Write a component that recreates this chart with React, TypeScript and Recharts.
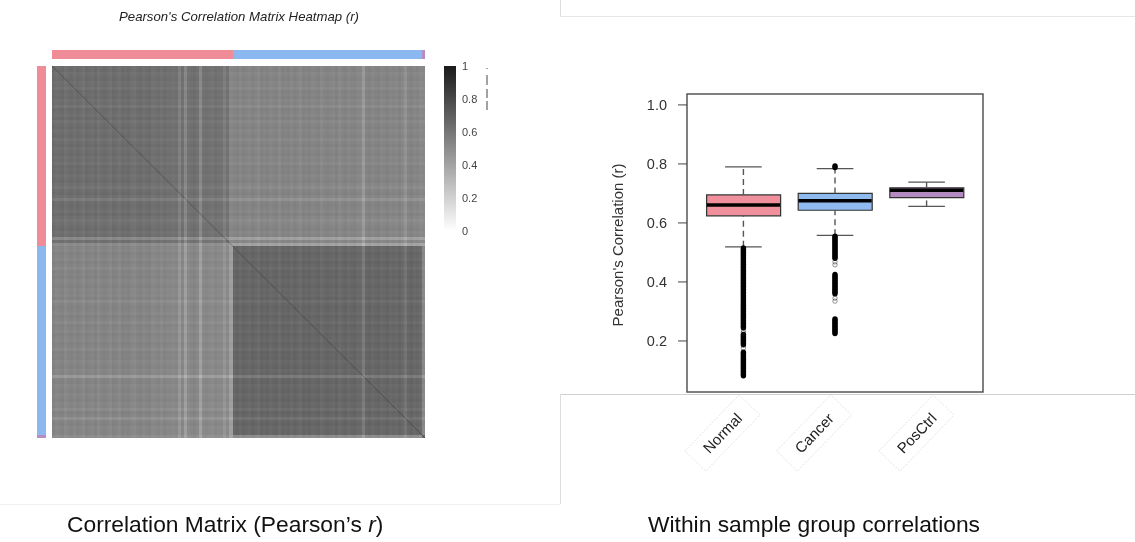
import React from 'react';
import {
  Bar,
  BarChart,
  Cell,
  ComposedChart,
  ReferenceArea,
  ReferenceLine,
  Scatter,
  ScatterChart,
  XAxis,
  YAxis,
} from 'recharts';

const FONT = '"Liberation Sans", Arial, sans-serif';

// heatmap: samples per group and mean r of each block
const groupNames = ['Normal', 'Cancer', 'PosCtrl'];
const groupSizes = [60, 63, 1];
const groupColors = ['#f08c98', '#8cb8f0', '#b98cc4'];
const blockLevels = [
  [0.635, 0.535, 0.55],
  [0.535, 0.665, 0.55],
  [0.55, 0.55, 0.72],
];

// how far each column / row sits from its block mean
const colOffsets = [
  0.01, -0.01, 0, 0.01, -0.02, 0, 0.01, -0.01, 0.01, 0,
  -0.02, 0.01, 0, -0.01, 0.01, -0.02, 0, 0.01, 0, -0.02,
  0.01, 0, -0.02, 0.01, 0, 0.01, -0.01, -0.02, 0, 0.01,
  -0.01, 0, 0.01, -0.02, -0.01, 0, -0.02, 0, -0.01, -0.01,
  -0.02, -0.01, -0.08, -0.01, -0.11, -0.02, -0.01, 0, -0.02, -0.12,
  -0.02, -0.01, -0.02, -0.03, -0.01, -0.02, -0.02, -0.07, -0.02, -0.11,
  0, 0.01, -0.01, 0.01, 0, -0.01, 0.01, 0, -0.02, 0.01,
  0, 0.01, -0.01, 0, 0.01, -0.02, 0.01, 0, 0.01, -0.01,
  0.01, 0, -0.02, 0.01, 0, 0.01, -0.01, 0, 0.01, -0.02,
  0, 0.01, 0, -0.01, 0.01, -0.02, 0, 0.01, -0.01, 0,
  0.01, -0.01, -0.01, -0.09, 0, 0.01, -0.01, 0, 0.01, -0.01,
  0, 0.01, -0.01, 0, -0.01, 0.01, -0.01, -0.06, 0, 0.01,
  -0.01, 0, -0.02, -0.03,
];
const rowOffsets = [
  0, 0.01, -0.01, 0, 0.01, -0.01, 0, -0.02, 0.01, 0,
  0.01, -0.01, 0, -0.03, 0.01, 0, -0.01, 0.01, -0.02, 0,
  0.01, -0.01, 0, 0.01, -0.02, 0, 0.01, -0.01, 0, 0.01,
  -0.01, 0, -0.02, 0.01, 0, 0.01, -0.01, 0, 0.01, -0.01,
  -0.03, 0, 0.01, -0.01, -0.06, 0, 0.01, 0, -0.01, 0.01,
  -0.01, -0.03, -0.01, 0, 0.01, -0.01, 0, -0.12, -0.01, -0.13,
  0, -0.01, 0.01, 0, -0.01, 0.01, 0, -0.02, 0.01, 0,
  0.01, -0.01, 0, 0.01, -0.01, 0, -0.01, 0.01, -0.03, 0,
  0.01, 0, -0.01, 0.01, 0, -0.02, 0.01, 0, -0.01, 0.01,
  0, -0.01, 0.01, 0, -0.02, 0.01, 0, 0.01, -0.01, 0,
  0.01, -0.01, 0, -0.09, 0, 0.01, -0.01, 0, 0.01, -0.01,
  0, 0.01, -0.01, 0, -0.03, 0.01, 0, -0.05, 0, 0.01,
  -0.01, 0, 0, -0.05,
];

const diagonal = [
  { col: 0, row: 0 },
  { col: 124, row: 124 },
];

const legendTicks = [0, 0.2, 0.4, 0.6, 0.8, 1];

// boxplot stats
const boxNames = ['Normal', 'Cancer', 'PosCtrl'];
const boxColors = ['#f0909c', '#8fbaf0', '#b48bc0'];
const whiskerLow = [0.519, 0.558, 0.656];
const quartile1 = [0.624, 0.643, 0.686];
const medians = [0.661, 0.675, 0.711];
const quartile3 = [0.695, 0.7, 0.719];
const whiskerHigh = [0.79, 0.784, 0.738];

const normalOutliers = [
  0.515, 0.51, 0.505, 0.5, 0.495, 0.49, 0.485, 0.48, 0.475, 0.47, 0.465, 0.46, 0.455, 0.45,
  0.445, 0.44, 0.435, 0.43, 0.425, 0.42, 0.415, 0.41, 0.405, 0.4, 0.395, 0.39, 0.385, 0.38,
  0.375, 0.37, 0.365, 0.36, 0.355, 0.35, 0.345, 0.34, 0.335, 0.33, 0.325, 0.32, 0.315, 0.31,
  0.305, 0.3, 0.295, 0.29, 0.285, 0.28, 0.275, 0.27, 0.265, 0.26, 0.255, 0.25, 0.245,
  0.222, 0.217, 0.212, 0.207, 0.202, 0.197, 0.192, 0.187,
  0.162, 0.157, 0.152, 0.147, 0.142, 0.137, 0.132, 0.127, 0.122, 0.117, 0.112, 0.107, 0.102,
  0.097, 0.092, 0.087, 0.082,
];
const cancerOutliers = [
  0.793, 0.788, 0.555, 0.55, 0.545, 0.54, 0.535, 0.53, 0.525, 0.52, 0.515, 0.51, 0.505, 0.5,
  0.495, 0.49, 0.485, 0.48, 0.425, 0.42, 0.415, 0.41, 0.405, 0.4, 0.395, 0.39, 0.385, 0.38,
  0.375, 0.37, 0.365, 0.36, 0.275, 0.27, 0.265, 0.26, 0.255, 0.25, 0.245, 0.24, 0.235, 0.23,
  0.225,
];
const normalRings = [0.235, 0.228, 0.176];
const cancerRings = [0.468, 0.458, 0.345, 0.335];

type MatrixCell = { col: number; row: number; value: number };

const groupOf = (index: number) => {
  let end = 0;
  for (let g = 0; g < groupSizes.length; g++) {
    end += groupSizes[g];
    if (index < end) return g;
  }
  return groupSizes.length - 1;
};

const matrixCells: MatrixCell[] = [];
rowOffsets.forEach((rowOff, row) => {
  colOffsets.forEach((colOff, col) => {
    matrixCells.push({
      col: col + 0.5,
      row: row + 0.5,
      value: blockLevels[groupOf(row)][groupOf(col)] + rowOff + colOff,
    });
  });
});

const topStrip = colOffsets.map((_, i) => ({ col: i + 0.5, row: -3.8, group: groupOf(i) }));
const sideStrip = rowOffsets.map((_, i) => ({ col: -3.5, row: i + 0.5, group: groupOf(i) }));

const grey = (value: number) => {
  const level = Math.round(255 - 229 * value);
  return `rgb(${level},${level},${level})`;
};

const CELL = 388 / 129;

const HeatCell = (props: any) => (
  <rect
    x={props.cx - CELL / 2}
    y={props.cy - CELL / 2}
    width={CELL}
    height={CELL}
    fill={grey(props.payload.value)}
    shapeRendering="crispEdges"
  />
);

const TopCell = (props: any) => (
  <rect
    x={props.cx - CELL / 2}
    y={props.cy - 4.5}
    width={CELL}
    height={9}
    fill={groupColors[props.payload.group]}
    shapeRendering="crispEdges"
  />
);

const SideCell = (props: any) => (
  <rect
    x={props.cx - 4.5}
    y={props.cy - CELL / 2}
    width={9}
    height={CELL}
    fill={groupColors[props.payload.group]}
    shapeRendering="crispEdges"
  />
);

const NoPoint = () => null;

const Heatmap = () => (
  <ScatterChart width={388} height={388} margin={{ top: 0, right: 0, bottom: 0, left: 0 }}>
    <XAxis type="number" dataKey="col" domain={[-5, 124]} hide />
    <YAxis type="number" dataKey="row" domain={[-5.3, 124]} reversed hide />
    <Scatter data={matrixCells} shape={HeatCell} isAnimationActive={false} />
    <Scatter data={topStrip} shape={TopCell} isAnimationActive={false} />
    <Scatter data={sideStrip} shape={SideCell} isAnimationActive={false} />
    <Scatter
      data={diagonal}
      shape={NoPoint}
      line={{ stroke: '#2a2a2a', strokeOpacity: 0.4, strokeWidth: 1 }}
      isAnimationActive={false}
    />
  </ScatterChart>
);

const legendData = [{ name: 'r', top: 1 }];

const ColorKey = () => (
  <BarChart
    width={44}
    height={180}
    data={legendData}
    margin={{ top: 6, right: 0, bottom: 9, left: 0 }}
    barCategoryGap={0}
  >
    <defs>
      <linearGradient id="ramp" x1="0" y1="0" x2="0" y2="1">
        <stop offset="0%" stopColor="#1a1a1a" />
        <stop offset="100%" stopColor="#ffffff" />
      </linearGradient>
    </defs>
    <XAxis dataKey="name" hide />
    <YAxis
      orientation="right"
      width={32}
      domain={[0, 1]}
      ticks={legendTicks}
      axisLine={false}
      tickLine={false}
      tickMargin={6}
      tickSize={0}
      tick={{ fontSize: 11, fill: '#444', fontFamily: FONT }}
    />
    <Bar dataKey="top" fill="url(#ramp)" isAnimationActive={false} />
  </BarChart>
);

const boxData = boxNames.map((name, i) => ({
  name,
  pos: i + 1,
  box: [quartile1[i], quartile3[i]],
}));

const toPoints = (pos: number, values: number[]) => values.map((r) => ({ pos, r }));

const Dot = (props: any) => <circle cx={props.cx} cy={props.cy} r={2.7} fill="#000" />;
const Ring = (props: any) => (
  <circle cx={props.cx} cy={props.cy} r={2.2} fill="none" stroke="#222" strokeOpacity={0.6} strokeWidth={0.8} />
);

// label boxes sit left of their tick
const labelShift = [-21, -21, -10];

const RotatedTick = (props: any) => {
  const { x, y, payload, index } = props;
  return (
    <g transform={`translate(${x + labelShift[index]},${y + 35}) rotate(-46)`}>
      <rect x={-39} y={-14.5} width={78} height={29} fill="none" stroke="#d8d8d8" strokeWidth={0.7} strokeDasharray="2 1.5" />
      <text textAnchor="middle" dominantBaseline="central" fontSize={15} fill="#222" fontFamily={FONT}>
        {boxNames[payload.value - 1]}
      </text>
    </g>
  );
};

const Boxplot = () => (
  <ComposedChart
    width={400}
    height={400}
    data={boxData}
    margin={{ top: 14, right: 17, bottom: 0, left: 0 }}
  >
    <XAxis
      type="number"
      dataKey="pos"
      domain={[0.384, 3.616]}
      ticks={[1, 2, 3]}
      axisLine={false}
      tickLine={false}
      height={88}
      tickMargin={0}
      tick={RotatedTick}
      allowDataOverflow
    />
    <YAxis
      type="number"
      domain={[0.027, 1.037]}
      ticks={[0.2, 0.4, 0.6, 0.8, 1]}
      width={87}
      allowDataOverflow
      axisLine={false}
      tickSize={9}
      tickMargin={11}
      tickLine={{ stroke: '#444' }}
      tickFormatter={(v: number) => v.toFixed(1)}
      tick={{ fontSize: 14.5, fill: '#333', fontFamily: FONT }}
      label={{
        value: "Pearson's Correlation (r)",
        angle: -90,
        position: 'insideLeft',
        offset: 18,
        dy: 2,
        style: { fontSize: 15, fill: '#333', fontFamily: FONT, textAnchor: 'middle' },
      }}
    />
    <ReferenceArea
      x1={0.384}
      x2={3.616}
      y1={0.027}
      y2={1.037}
      fill="none"
      stroke="#555"
      strokeWidth={1.5}
      ifOverflow="visible"
    />
    <Bar dataKey="box" barSize={74} stroke="#333" strokeWidth={1.2} isAnimationActive={false}>
      {boxNames.map((name, i) => (
        <Cell key={name} fill={boxColors[i]} />
      ))}
    </Bar>
    {boxNames.map((name, i) => {
      const pos = i + 1;
      return (
        <React.Fragment key={name}>
          <ReferenceLine
            segment={[{ x: pos, y: quartile3[i] }, { x: pos, y: whiskerHigh[i] }]}
            stroke="#555"
            strokeWidth={1.4}
            strokeDasharray="6 4"
          />
          <ReferenceLine
            segment={[{ x: pos, y: whiskerLow[i] }, { x: pos, y: quartile1[i] }]}
            stroke="#555"
            strokeWidth={1.4}
            strokeDasharray="6 4"
          />
          <ReferenceLine
            segment={[{ x: pos - 0.2, y: whiskerHigh[i] }, { x: pos + 0.2, y: whiskerHigh[i] }]}
            stroke="#555"
            strokeWidth={1.3}
          />
          <ReferenceLine
            segment={[{ x: pos - 0.2, y: whiskerLow[i] }, { x: pos + 0.2, y: whiskerLow[i] }]}
            stroke="#555"
            strokeWidth={1.3}
          />
          <ReferenceLine
            segment={[{ x: pos - 0.4, y: medians[i] }, { x: pos + 0.4, y: medians[i] }]}
            stroke="#000"
            strokeWidth={3.6}
          />
        </React.Fragment>
      );
    })}
    <Scatter data={toPoints(1, normalOutliers)} dataKey="r" shape={Dot} isAnimationActive={false} />
    <Scatter data={toPoints(2, cancerOutliers)} dataKey="r" shape={Dot} isAnimationActive={false} />
    <Scatter data={toPoints(1, normalRings)} dataKey="r" shape={Ring} isAnimationActive={false} />
    <Scatter data={toPoints(2, cancerRings)} dataKey="r" shape={Ring} isAnimationActive={false} />
  </ComposedChart>
);

const place = (left: number, top: number): React.CSSProperties => ({
  position: 'absolute',
  left,
  top,
});

const App = () => (
  <div
    style={{
      position: 'absolute',
      left: 0,
      top: 0,
      width: 1135,
      height: 542,
      overflow: 'hidden',
      background: '#fff',
      fontFamily: FONT,
      filter: 'blur(0.4px)',
    }}
  >
    {/* slide panel edges */}
    <svg width={1135} height={542} style={place(0, 0)}>
      <line x1={560.5} y1={0} x2={560.5} y2={16} stroke="#ddd" />
      <line x1={560} y1={16.5} x2={1135} y2={16.5} stroke="#e6e6e6" />
      <line x1={560} y1={394.5} x2={1135} y2={394.5} stroke="#d0d0d0" />
      <line x1={560.5} y1={394} x2={560.5} y2={504} stroke="#ddd" />
      <line x1={0} y1={504.5} x2={560} y2={504.5} stroke="#f0f0f0" />
      <line x1={487} y1={68} x2={487} y2={110} stroke="#444" strokeDasharray="1 6 10 4 9 3 11 0" />
    </svg>

    <div style={{ ...place(0, 9), width: 478, textAlign: 'center', fontSize: 13.2, fontStyle: 'italic', color: '#222' }}>
      Pearson's Correlation Matrix Heatmap (r)
    </div>

    <div style={place(37, 50)}>
      <Heatmap />
    </div>
    <div style={place(444, 60)}>
      <ColorKey />
    </div>
    <div style={place(600, 80)}>
      <Boxplot />
    </div>

    <div style={{ ...place(67, 511), fontSize: 22.8, color: '#111', whiteSpace: 'nowrap' }}>
      Correlation Matrix (Pearson’s <i>r</i>)
    </div>
    <div style={{ ...place(648, 511), fontSize: 22.8, color: '#111', whiteSpace: 'nowrap' }}>
      Within sample group correlations
    </div>
  </div>
);

export default App;
